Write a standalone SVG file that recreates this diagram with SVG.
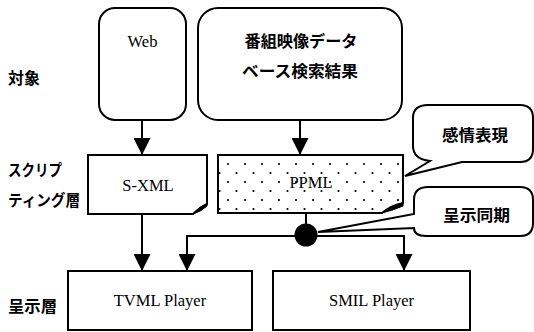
<svg xmlns="http://www.w3.org/2000/svg" width="534" height="332" viewBox="0 0 534 332">
  <style>
    .box { fill: #fff; stroke: #000; stroke-width: 2; }
    .line { fill: none; stroke: #000; stroke-width: 2; }
    .serif { font-size: 16.5px; fill: #000; text-anchor: middle; }
    .jp { font-size: 16px; font-weight: bold; fill: #000; }
    .jpc { text-anchor: middle; }
  </style>
  <defs>
    <marker id="arrow" viewBox="0 0 17 17" refX="17" refY="8.5" markerWidth="17" markerHeight="17" markerUnits="userSpaceOnUse" orient="auto">
      <path d="M0,0 L17,8.5 L0,17 Z" fill="#000"/>
    </marker>
    <pattern id="dots" x="211" y="164" width="17" height="18" patternUnits="userSpaceOnUse">
      <rect x="0" y="0" width="17" height="18" fill="#fff"/>
      <circle cx="0" cy="0" r="1.1" fill="#000"/>
      <circle cx="17" cy="0" r="1.1" fill="#000"/>
      <circle cx="0" cy="18" r="1.1" fill="#000"/>
      <circle cx="17" cy="18" r="1.1" fill="#000"/>
      <circle cx="8.5" cy="9" r="1.1" fill="#000"/>
    </pattern>
  </defs>

  <!-- layer labels -->
  <g id="layer-labels" font-family="'Noto Sans CJK JP', 'Noto Sans', sans-serif">
    <text class="jp" x="8" y="84" textLength="32" lengthAdjust="spacingAndGlyphs">対象</text>
    <text class="jp" x="8" y="176" textLength="54" lengthAdjust="spacingAndGlyphs">スクリプ</text>
    <text class="jp" x="8" y="206" textLength="72" lengthAdjust="spacingAndGlyphs">ティング層</text>
    <text class="jp" x="8" y="312" textLength="49" lengthAdjust="spacingAndGlyphs">呈示層</text>
  </g>

  <!-- connectors -->
  <g id="connectors">
    <line class="line" x1="142" y1="120" x2="142" y2="155" marker-end="url(#arrow)"/>
    <line class="line" x1="300" y1="120" x2="300" y2="155" marker-end="url(#arrow)"/>
    <line class="line" x1="142" y1="214" x2="142" y2="271" marker-end="url(#arrow)"/>
    <line class="line" x1="306" y1="213" x2="306" y2="236"/>
    <polyline class="line" points="187,236 404,236 404,271" marker-end="url(#arrow)"/>
    <line class="line" x1="187" y1="235" x2="187" y2="271" marker-end="url(#arrow)"/>
    <circle cx="306" cy="235" r="11.5" fill="#000"/>
  </g>

  <!-- source nodes -->
  <g id="web">
    <rect class="box" x="99" y="8" width="87" height="112" rx="16" ry="16"/>
    <text class="serif" font-family="'Liberation Serif', 'Times New Roman', serif" x="142.5" y="47">Web</text>
  </g>
  <g id="program-db" font-family="'Noto Sans CJK JP', 'Noto Sans', sans-serif">
    <rect class="box" x="198" y="8" width="204" height="112" rx="20" ry="20"/>
    <text class="jp jpc" x="301" y="47" textLength="113" lengthAdjust="spacingAndGlyphs">番組映像データ</text>
    <text class="jp jpc" x="300" y="77" textLength="116" lengthAdjust="spacingAndGlyphs">ベース検索結果</text>
  </g>

  <!-- scripting nodes -->
  <g id="s-xml">
    <path class="box" d="M88,155 H207 V204 Q201,207 193,214 H88 Z"/>
    <path d="M193,214 Q199,206 207,204 L207,206 Q202,211 193,214 Z" fill="#000" stroke="#000" stroke-width="1"/>
    <text class="serif" font-family="'Liberation Serif', 'Times New Roman', serif" x="148" y="191">S-XML</text>
  </g>
  <g id="ppml">
    <path class="box" d="M218,155 H403 V203 Q392,205 382,213 H218 Z" style="fill:url(#dots)"/>
    <path d="M382,213 Q390,206 403,203 L403,206 Q394,210 382,213 Z" fill="#000" stroke="#000" stroke-width="1"/>
    <text class="serif" font-family="'Liberation Serif', 'Times New Roman', serif" x="311" y="188">PPML</text>
  </g>

  <!-- callouts -->
  <g id="emotion-callout" font-family="'Noto Sans CJK JP', 'Noto Sans', sans-serif">
    <path class="box" d="M428,105 H520 Q533,105 533,118 V149 Q533,162 520,162 H462 L405,176 L430,161 Q413,159 413,146 V118 Q413,105 428,105 Z"/>
    <text class="jp" x="442" y="141" textLength="66" lengthAdjust="spacingAndGlyphs">感情表現</text>
  </g>
  <g id="sync-callout" font-family="'Noto Sans CJK JP', 'Noto Sans', sans-serif">
    <path class="box" d="M428,187 H520 Q533,187 533,200 V223 Q533,236 520,236 H426 Q414,236 414,228 L318,232 L414,214 V200 Q414,187 428,187 Z"/>
    <text class="jp" x="443" y="221" textLength="67" lengthAdjust="spacingAndGlyphs">呈示同期</text>
  </g>

  <!-- presentation nodes -->
  <g id="tvml-player">
    <rect class="box" x="68" y="271" width="184" height="59"/>
    <text class="serif" font-family="'Liberation Serif', 'Times New Roman', serif" x="160" y="306">TVML Player</text>
  </g>
  <g id="smil-player">
    <rect class="box" x="273" y="271" width="197" height="59"/>
    <text class="serif" font-family="'Liberation Serif', 'Times New Roman', serif" x="371.5" y="306">SMIL Player</text>
  </g>
</svg>
